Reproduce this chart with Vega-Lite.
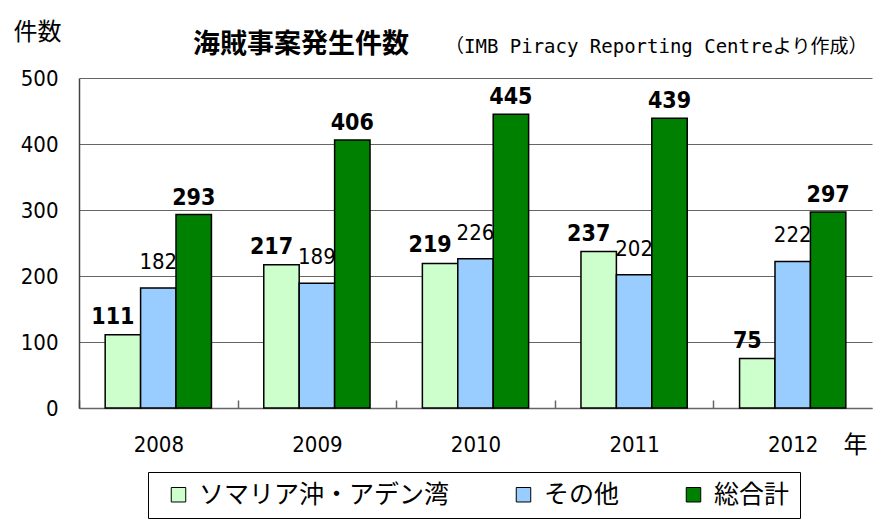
{
  "$schema": "https://vega.github.io/schema/vega-lite/v6.json",
  "width": 793,
  "height": 330,
  "autosize": {"type": "none"},
  "padding": {"left": 79, "top": 78, "right": 14, "bottom": 121},
  "background": "white",
  "config": {
    "view": {"stroke": null},
    "legend": {
      "orient": "none",
      "legendX": 69,
      "legendY": 394,
      "direction": "horizontal",
      "symbolType": "square",
      "symbolSize": 210,
      "symbolStrokeColor": "black",
      "symbolStrokeWidth": 1,
      "symbolOpacity": 1,
      "symbolOffset": 8,
      "labelFont": "Noto Sans CJK JP",
      "labelFontSize": 25,
      "labelColor": "black",
      "labelOffset": 8,
      "labelLimit": 400,
      "columnPadding": 53,
      "padding": 10,
      "strokeColor": "black",
      "fillColor": "white"
    }
  },
  "title": {
    "text": "海賊事案発生件数",
    "subtitle": "⠀⠀⠀⠀⠀⠀⠀⠀⠀⠀⠀⠀⠀⠀⠀⠀⠀⠀（IMB Piracy Reporting Centreより作成）",
    "anchor": "start",
    "frame": "group",
    "dx": 114,
    "dy": 61,
    "offset": 22,
    "font": "Noto Sans CJK JP",
    "fontSize": 27,
    "fontWeight": "bold",
    "color": "black",
    "subtitleFont": "DejaVu Sans Mono, Noto Sans CJK JP",
    "subtitleFontSize": 19,
    "subtitleColor": "black",
    "subtitlePadding": -21
  },
  "data": {
    "values": [
      {"year": "2008", "series": "ソマリア沖・アデン湾", "value": 111},
      {"year": "2008", "series": "その他", "value": 182},
      {"year": "2008", "series": "総合計", "value": 293},
      {"year": "2009", "series": "ソマリア沖・アデン湾", "value": 217},
      {"year": "2009", "series": "その他", "value": 189},
      {"year": "2009", "series": "総合計", "value": 406},
      {"year": "2010", "series": "ソマリア沖・アデン湾", "value": 219},
      {"year": "2010", "series": "その他", "value": 226},
      {"year": "2010", "series": "総合計", "value": 445},
      {"year": "2011", "series": "ソマリア沖・アデン湾", "value": 237},
      {"year": "2011", "series": "その他", "value": 202},
      {"year": "2011", "series": "総合計", "value": 439},
      {"year": "2012", "series": "ソマリア沖・アデン湾", "value": 75},
      {"year": "2012", "series": "その他", "value": 222},
      {"year": "2012", "series": "総合計", "value": 297}
    ]
  },
  "encoding": {
    "x": {
      "field": "year",
      "type": "nominal",
      "scale": {"paddingInner": 0.33, "paddingOuter": 0.165},
      "axis": {
        "title": "年",
        "titleX": 776,
        "titleY": 37,
        "titleAlign": "center",
        "titleBaseline": "middle",
        "titleFont": "Noto Sans CJK JP",
        "titleFontSize": 24,
        "titleFontWeight": "normal",
        "titleColor": "black",
        "labelAngle": 0,
        "labelFont": "DejaVu Sans Condensed",
        "labelFontSize": 22,
        "labelColor": "black",
        "ticks": true,
        "tickOffset": -79.3,
        "labelOffset": 79.3,
        "tickSize": -8,
        "tickColor": "#666",
        "tickWidth": 1.5,
        "labelPadding": 34,
        "domainColor": "#666",
        "domainWidth": 1.5
      }
    },
    "xOffset": {
      "field": "series",
      "type": "nominal",
      "scale": {"domain": ["ソマリア沖・アデン湾", "その他", "総合計"]}
    },
    "y": {
      "field": "value",
      "type": "quantitative",
      "scale": {"domain": [0, 500]},
      "axis": {
        "title": "件数",
        "titleAngle": 0,
        "titleX": -66,
        "titleY": -46,
        "titleAlign": "left",
        "titleBaseline": "middle",
        "titleFont": "Noto Sans CJK JP",
        "titleFontSize": 24,
        "titleFontWeight": "normal",
        "titleColor": "black",
        "values": [0, 100, 200, 300, 400, 500],
        "ticks": false,
        "labelPadding": 21,
        "labelFont": "DejaVu Sans Condensed",
        "labelFontSize": 22,
        "labelColor": "black",
        "grid": true,
        "gridColor": "#666",
        "domainColor": "#444",
        "domainWidth": 1.5
      }
    }
  },
  "layer": [
    {
      "mark": {"type": "bar", "stroke": "black", "strokeWidth": 1.5},
      "encoding": {
        "color": {
          "field": "series",
          "type": "nominal",
          "scale": {
            "domain": ["ソマリア沖・アデン湾", "その他", "総合計"],
            "range": ["#CCFFCC", "#99CCFF", "#008000"]
          },
          "legend": {"title": null}
        }
      }
    },
    {
      "transform": [{"filter": "datum.series === 'ソマリア沖・アデン湾'"}],
      "mark": {"type": "text", "font": "DejaVu Sans Condensed", "fontWeight": "bold", "fontSize": 23, "baseline": "alphabetic", "dy": -11, "dx": -10, "color": "black"},
      "encoding": {"text": {"field": "value", "type": "quantitative"}}
    },
    {
      "transform": [{"filter": "datum.series === 'その他'"}],
      "mark": {"type": "text", "font": "DejaVu Sans Condensed", "fontWeight": "normal", "fontSize": 22, "baseline": "alphabetic", "dy": -19, "color": "black"},
      "encoding": {"text": {"field": "value", "type": "quantitative"}}
    },
    {
      "transform": [{"filter": "datum.series === '総合計'"}],
      "mark": {"type": "text", "font": "DejaVu Sans Condensed", "fontWeight": "bold", "fontSize": 23, "baseline": "alphabetic", "dy": -10, "color": "black"},
      "encoding": {"text": {"field": "value", "type": "quantitative"}}
    }
  ]
}
